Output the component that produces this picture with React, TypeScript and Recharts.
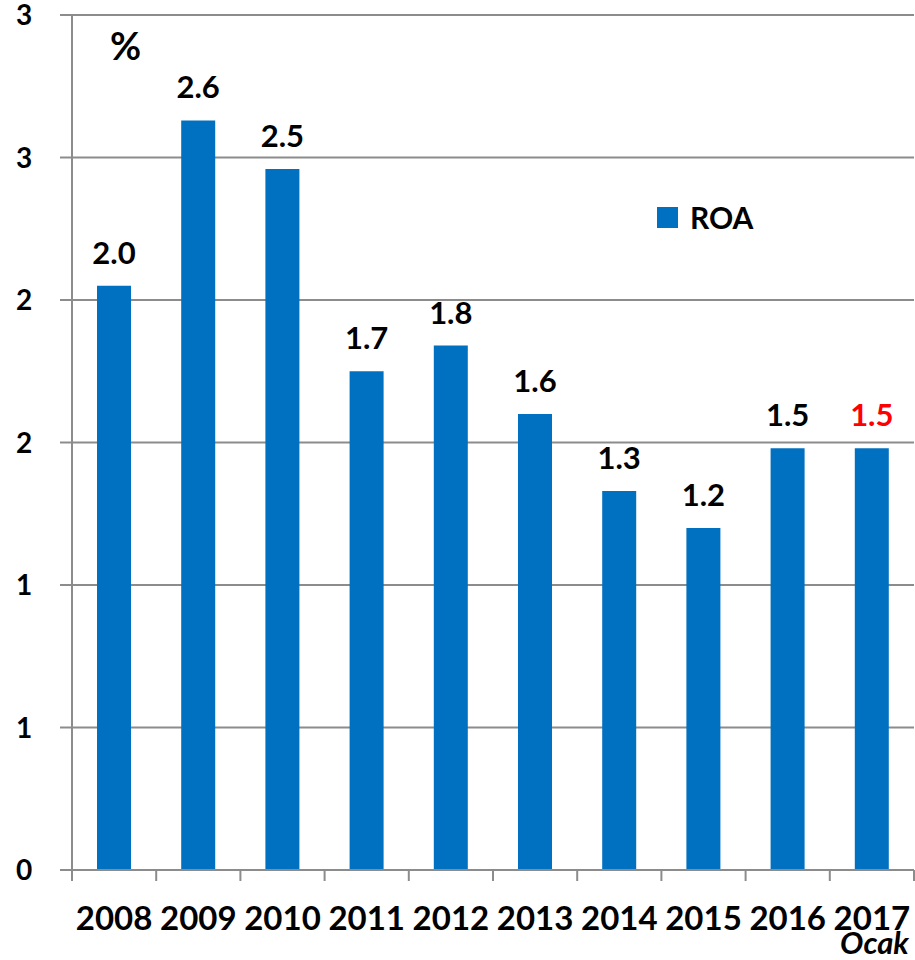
import { Bar, BarChart, CartesianGrid, LabelList, XAxis, YAxis } from 'recharts'

const YEARS = ['2008', '2009', '2010', '2011', '2012', '2013', '2014', '2015', '2016', '2017']
const ROA = [2.05, 2.63, 2.46, 1.75, 1.84, 1.6, 1.33, 1.2, 1.48, 1.48]
const ROA_LABELS = ['2.0', '2.6', '2.5', '1.7', '1.8', '1.6', '1.3', '1.2', '1.5', '1.5']
const Y_TICKS = [0, 0.5, 1, 1.5, 2, 2.5, 3]
const Y_TICK_LABELS = ['0', '1', '1', '2', '2', '3', '3']

const FONT = 'Lato, "Open Sans", sans-serif'
const BAR_COLOR = '#0070C0'
const AXIS_COLOR = '#8c8c8c'
const BAND = 84.2

const data = YEARS.map((year, i) => ({ year, roa: ROA[i], label: ROA_LABELS[i] }))

function XTick({ x, y, payload, index }: any) {
  const last = index === YEARS.length - 1
  return (
    <g>
      <line x1={x - BAND / 2} x2={x - BAND / 2} y1={y - 8} y2={y + 3} stroke={AXIS_COLOR} strokeWidth={2} />
      {last && <line x1={x + BAND / 2} x2={x + BAND / 2} y1={y - 8} y2={y + 3} stroke={AXIS_COLOR} strokeWidth={2} />}
      <text x={x} y={y + 52} textAnchor="middle" fontFamily={FONT} fontWeight={700} fontSize={33} fill="#000">
        {payload.value}
      </text>
      {last && (
        <text x={x + 37} y={y + 76} textAnchor="end" fontFamily={FONT} fontWeight={700} fontStyle="italic" fontSize={31} fill="#000">
          Ocak
        </text>
      )}
    </g>
  )
}

function YTick({ x, y, index }: any) {
  return (
    <text x={x - 34} y={y + 10} textAnchor="middle" fontFamily={FONT} fontWeight={700} fontSize={28} fill="#000">
      {Y_TICK_LABELS[index]}
    </text>
  )
}

function ValueLabel({ x, y, width, value, index }: any) {
  const last = index === YEARS.length - 1
  return (
    <text x={x + width / 2} y={y - 22} textAnchor="middle" fontFamily={FONT} fontWeight={700} fontSize={31} fill={last ? '#FF0000' : '#000'}>
      {value}
    </text>
  )
}

export default function App() {
  return (
    <div style={{ position: 'absolute', left: 0, top: 0, width: 915, height: 960, background: '#fff' }}>
      <BarChart width={915} height={960} data={data} margin={{ top: 15, right: 1, bottom: 0, left: 0 }}>
        <CartesianGrid vertical={false} stroke={AXIS_COLOR} strokeWidth={2} />
        <XAxis dataKey="year" height={90} axisLine={{ stroke: AXIS_COLOR, strokeWidth: 2 }} tickLine={false} tick={<XTick />} interval={0} />
        <YAxis
          width={72}
          domain={[0, 3]}
          ticks={Y_TICKS}
          axisLine={{ stroke: AXIS_COLOR, strokeWidth: 2 }}
          tickLine={{ stroke: AXIS_COLOR, strokeWidth: 2 }}
          tickSize={12}
          tick={<YTick />}
        />
        <Bar dataKey="roa" name="ROA" fill={BAR_COLOR} barSize={34} isAnimationActive={false}>
          <LabelList dataKey="label" content={<ValueLabel />} />
        </Bar>
      </BarChart>
      <div style={{ position: 'absolute', left: 110, top: 22, fontFamily: FONT, fontWeight: 700, fontSize: 38 }}>%</div>
      <div style={{ position: 'absolute', left: 657, top: 199, display: 'flex', alignItems: 'center', fontFamily: FONT, fontWeight: 700, fontSize: 30 }}>
        <span style={{ width: 21, height: 21, background: BAR_COLOR, display: 'inline-block', marginRight: 12 }} />
        <span>ROA</span>
      </div>
    </div>
  )
}
